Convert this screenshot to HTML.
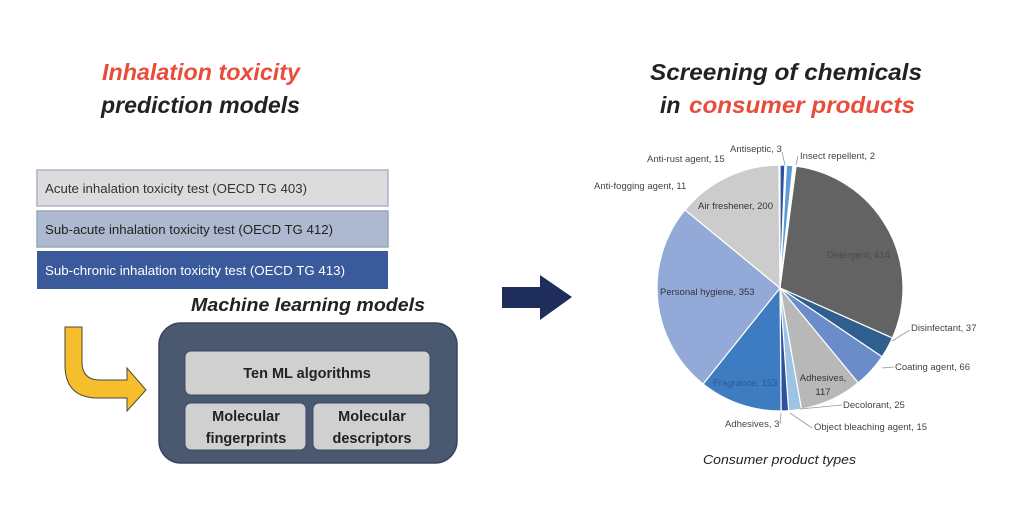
<!DOCTYPE html>
<html><head><meta charset="utf-8"><style>
html,body{margin:0;padding:0;background:#fff;width:1024px;height:511px;overflow:hidden}
svg{display:block}
text{font-family:"Liberation Sans",sans-serif}
</style></head><body>
<svg id="s" width="1024" height="511" viewBox="0 0 1024 511" xmlns="http://www.w3.org/2000/svg">
<g font-weight="bold" font-style="italic" font-size="23">
<text x="102" y="80" fill="#ea4c3c" textLength="198" lengthAdjust="spacingAndGlyphs">Inhalation toxicity</text>
<text x="101" y="113" fill="#222" textLength="199" lengthAdjust="spacingAndGlyphs">prediction models</text>
<text x="650" y="80" fill="#222" textLength="272" lengthAdjust="spacingAndGlyphs">Screening of chemicals</text>
<text x="660" y="113" fill="#222">in</text>
<text x="689" y="113" fill="#ea4c3c" textLength="226" lengthAdjust="spacingAndGlyphs">consumer products</text>
</g>
<rect x="37" y="170" width="351" height="36" fill="#dcdcdc" stroke="#aab4c8" stroke-width="1.5"/>
<text x="45" y="193" font-size="13" fill="#333" textLength="262" lengthAdjust="spacingAndGlyphs">Acute inhalation toxicity test (OECD TG 403)</text>
<rect x="37" y="211" width="351" height="36" fill="#adb9cf" stroke="#9aa6bd" stroke-width="1.5"/>
<text x="45" y="234" font-size="13" fill="#222" textLength="288" lengthAdjust="spacingAndGlyphs">Sub-acute inhalation toxicity test (OECD TG 412)</text>
<rect x="37" y="251" width="351" height="38" fill="#3a5a9c"/>
<text x="45" y="275" font-size="13" fill="#fff" textLength="300" lengthAdjust="spacingAndGlyphs">Sub-chronic inhalation toxicity test (OECD TG 413)</text>
<text x="191" y="311" font-size="18" font-weight="bold" font-style="italic" fill="#222" textLength="234" lengthAdjust="spacingAndGlyphs">Machine learning models</text>
<rect x="159" y="323" width="298" height="140" rx="22" fill="#4a5870" stroke="#3a4660" stroke-width="1.5"/>
<rect x="185" y="351" width="245" height="44" rx="6" fill="#d0d0d0" stroke="#3d4a63"/>
<text x="307" y="378" font-size="14.5" font-weight="bold" fill="#222" text-anchor="middle">Ten ML algorithms</text>
<rect x="185" y="403" width="121" height="47" rx="6" fill="#d0d0d0" stroke="#3d4a63"/>
<rect x="313" y="403" width="117" height="47" rx="6" fill="#d0d0d0" stroke="#3d4a63"/>
<g font-size="14.5" font-weight="bold" fill="#222" text-anchor="middle">
<text x="246" y="421">Molecular</text><text x="246" y="443">fingerprints</text>
<text x="372" y="421">Molecular</text><text x="372" y="443">descriptors</text>
</g>
<path d="M65,327 H82 V362 Q82,380 100,380 H127 V368 L146,390 L127,411 V398 H98 Q65,398 65,365 Z" fill="#f6bd2c" stroke="#4a4a3a" stroke-width="1"/>
<path d="M502,287 H540 V275 L572,297 L540,320 V308 H502 Z" fill="#1f2d5c"/>
<g id="pie"></g>
<g stroke="#999" stroke-width="0.8" fill="none">
<path d="M782,152 L785,165"/><path d="M798,156 L796,165"/>
<path d="M910,330 L900,336 L892,341"/><path d="M894,367 L882,368"/>
<path d="M842,405 L800,409"/><path d="M780,424 L781,413"/><path d="M812,428 L790,413"/>
</g>
<g font-size="9.5" fill="#444">
<text x="730" y="152">Antiseptic, 3</text>
<text x="800" y="159">Insect repellent, 2</text>
<text x="647" y="162">Anti-rust agent, 15</text>
<text x="594" y="189">Anti-fogging agent, 11</text>
<text x="698" y="209" fill="#333">Air freshener, 200</text>
<text x="827" y="258" fill="#4a4a4a">Detergent, 414</text>
<text x="660" y="295" fill="#333">Personal hygiene, 353</text>
<text x="911" y="331">Disinfectant, 37</text>
<text x="895" y="370">Coating agent, 66</text>
<text x="823" y="381" text-anchor="middle" fill="#333">Adhesives,</text>
<text x="823" y="395" text-anchor="middle" fill="#333">117</text>
<text x="713" y="386" fill="#2a5a9a">Fragrance, 153</text>
<text x="843" y="408">Decolorant, 25</text>
<text x="725" y="427">Adhesives, 3</text>
<text x="814" y="430">Object bleaching agent, 15</text>
</g>
<text x="703" y="464" font-size="12.5" font-style="italic" fill="#222" textLength="153" lengthAdjust="spacingAndGlyphs">Consumer product types</text>
</svg>
<script>
var cx=780,cy=288,r=123;
var sl=[[0,2.3,"#2f4fa0"],[3,6,"#5b9bd5"],[7.5,114,"#636363"],[114,124,"#2e5f8f"],[124,140.5,"#6a8cc9"],[140.5,170,"#b8b8b8"],[170,176,"#9dc3e6"],[176,179.5,"#2f4fa0"],[179.5,218.7,"#3d7cc0"],[218.7,309.4,"#93aad8"],[309.4,359.5,"#cccccc"]];
function p(a){a=a*Math.PI/180;return (cx+r*Math.sin(a)).toFixed(1)+","+(cy-r*Math.cos(a)).toFixed(1);}
var h="";
sl.forEach(function(s){var big=(s[1]-s[0])>180?1:0;h+='<path d="M'+cx+','+cy+' L'+p(s[0])+' A'+r+','+r+' 0 '+big+' 1 '+p(s[1])+' Z" fill="'+s[2]+'" stroke="#fff" stroke-width="1.2"/>';});
document.getElementById("pie").innerHTML=h;
</script>
</body></html>
